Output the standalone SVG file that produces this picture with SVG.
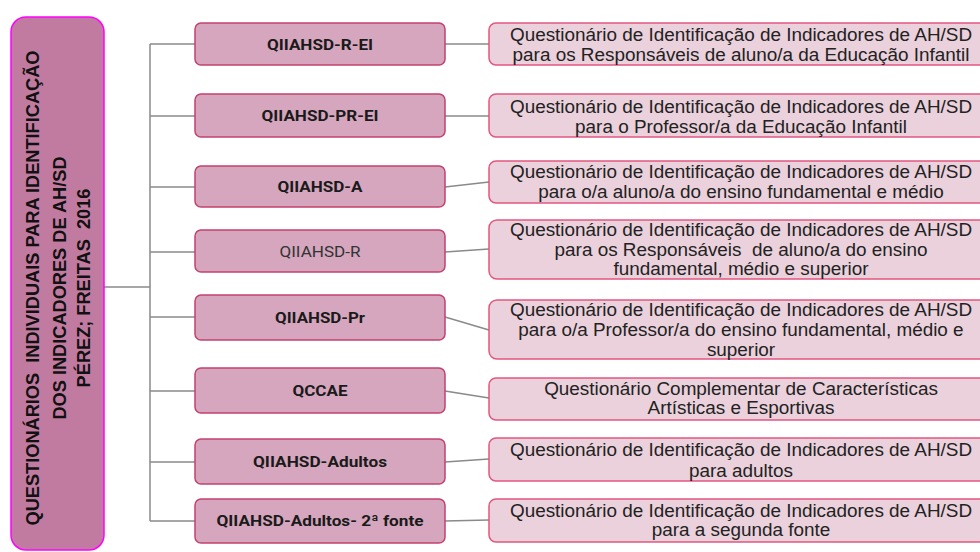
<svg xmlns="http://www.w3.org/2000/svg" width="980" height="552" viewBox="0 0 980 552">
<style>
.mid{fill:#d5a6bd;stroke:#c4416d;stroke-width:1.5}
.rt{fill:#ead1dc;stroke:#e2577f;stroke-width:1.5}
.mt{font-family:Roboto,"Liberation Sans",sans-serif;font-weight:bold;font-size:15.5px;fill:#1a1a1a;text-anchor:middle}
.rtx{font-family:"Liberation Sans",Arial,sans-serif;font-size:18.9px;fill:#222;text-anchor:middle}
.lt{font-family:"Liberation Sans",Arial,sans-serif;font-weight:bold;font-size:18.2px;fill:#111;text-anchor:middle}
.c{stroke:#8a8a8a;stroke-width:1.5;fill:none}
</style>
<rect width="980" height="552" fill="#fff"/>
<g id="connectors">
<path class="c" d="M104 287H150M150 44V521M150 44H195M150 116H195M150 187H195M150 252H195M150 317H195M150 391H195M150 462H195M150 521H195"/>
<path class="c" d="M445 44H489M445 116H489M445 187L489 182M445 252L489 249M445 317L489 330M445 391L489 398M445 462L489 459M445 521L489 520"/>
</g>
<g id="root">
<rect x="11" y="17" width="93" height="533" rx="15" fill="#c27ba0" stroke="#ff00ff" stroke-width="1.5"/>
<text class="lt" xml:space="preserve" transform="translate(39 288) rotate(-90)">QUESTIONÁRIOS  INDIVIDUAIS PARA IDENTIFICAÇÃO</text>
<text class="lt" transform="translate(66 288) rotate(-90)">DOS INDICADORES DE AH/SD</text>
<text class="lt" xml:space="preserve" transform="translate(90 288) rotate(-90)">PÉREZ; FREITAS  2016</text>
</g>
<g id="n1"><rect class="mid" x="195" y="23" width="250" height="42" rx="6"/><text class="mt" x="320" y="49.5" textLength="106" lengthAdjust="spacingAndGlyphs">QIIAHSD-R-EI</text></g>
<g id="n2"><rect class="mid" x="195" y="94" width="250" height="43" rx="6"/><text class="mt" x="320" y="121" textLength="117" lengthAdjust="spacingAndGlyphs">QIIAHSD-PR-EI</text></g>
<g id="n3"><rect class="mid" x="195" y="166" width="250" height="41" rx="6"/><text class="mt" x="320" y="192" textLength="85" lengthAdjust="spacingAndGlyphs">QIIAHSD-A</text></g>
<g id="n4"><rect class="mid" x="195" y="230" width="250" height="42" rx="6"/><text class="mt" x="320" y="257" textLength="81" lengthAdjust="spacingAndGlyphs" style="font-weight:normal;fill:#333">QIIAHSD-R</text></g>
<g id="n5"><rect class="mid" x="195" y="295" width="250" height="45" rx="6"/><text class="mt" x="320" y="323" textLength="90" lengthAdjust="spacingAndGlyphs">QIIAHSD-Pr</text></g>
<g id="n6"><rect class="mid" x="195" y="368" width="250" height="45" rx="6"/><text class="mt" x="320" y="396" textLength="55" lengthAdjust="spacingAndGlyphs">QCCAE</text></g>
<g id="n7"><rect class="mid" x="195" y="439" width="250" height="45" rx="6"/><text class="mt" x="320" y="467" textLength="134" lengthAdjust="spacingAndGlyphs">QIIAHSD-Adultos</text></g>
<g id="n8"><rect class="mid" x="195" y="499" width="250" height="44" rx="6"/><text class="mt" x="320" y="526" textLength="207" lengthAdjust="spacingAndGlyphs">QIIAHSD-Adultos- 2ª fonte</text></g>
<g id="d1"><rect class="rt" x="489" y="23" width="510" height="42" rx="7"/><text class="rtx" x="741" y="41">Questionário de Identificação de Indicadores de AH/SD</text><text class="rtx" x="741" y="61">para os Responsáveis de aluno/a da Educação Infantil</text></g>
<g id="d2"><rect class="rt" x="489" y="94" width="510" height="43" rx="7"/><text class="rtx" x="741" y="113">Questionário de Identificação de Indicadores de AH/SD</text><text class="rtx" x="741" y="133">para o Professor/a da Educação Infantil</text></g>
<g id="d3"><rect class="rt" x="489" y="161" width="510" height="42" rx="7"/><text class="rtx" x="741" y="178">Questionário de Identificação de Indicadores de AH/SD</text><text class="rtx" x="741" y="198">para o/a aluno/a do ensino fundamental e médio</text></g>
<g id="d4"><rect class="rt" x="489" y="220" width="510" height="59" rx="8"/><text class="rtx" x="741" y="236">Questionário de Identificação de Indicadores de AH/SD</text><text class="rtx" x="741" y="256" xml:space="preserve">para os Responsáveis  de aluno/a do ensino</text><text class="rtx" x="741" y="275">fundamental, médio e superior</text></g>
<g id="d5"><rect class="rt" x="489" y="300" width="510" height="59" rx="8"/><text class="rtx" x="741" y="316">Questionário de Identificação de Indicadores de AH/SD</text><text class="rtx" x="741" y="336">para o/a Professor/a do ensino fundamental, médio e</text><text class="rtx" x="741" y="356">superior</text></g>
<g id="d6"><rect class="rt" x="489" y="378" width="510" height="42" rx="7"/><text class="rtx" x="741" y="395">Questionário Complementar de Características</text><text class="rtx" x="741" y="414">Artísticas e Esportivas</text></g>
<g id="d7"><rect class="rt" x="489" y="438" width="510" height="43" rx="7"/><text class="rtx" x="741" y="456">Questionário de Identificação de Indicadores de AH/SD</text><text class="rtx" x="741" y="477">para adultos</text></g>
<g id="d8"><rect class="rt" x="489" y="499" width="510" height="43" rx="7"/><text class="rtx" x="741" y="517">Questionário de Identificação de Indicadores de AH/SD</text><text class="rtx" x="741" y="536">para a segunda fonte</text></g>
</svg>
